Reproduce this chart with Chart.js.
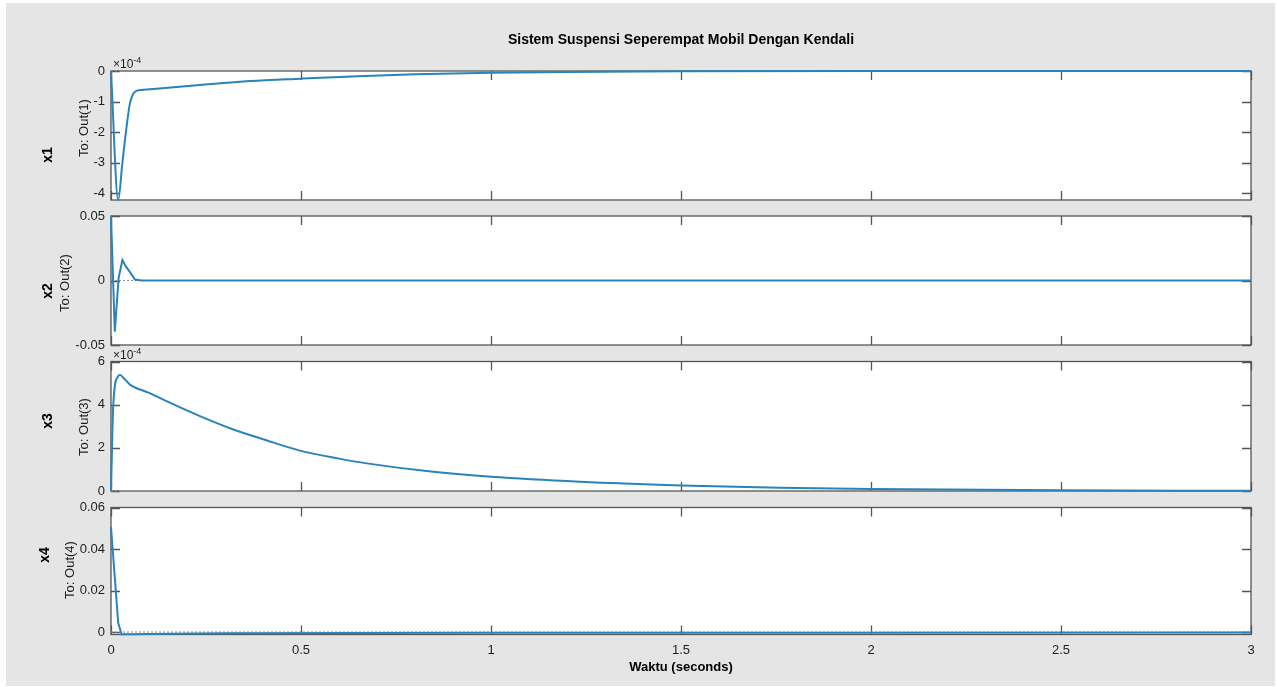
<!DOCTYPE html>
<html><head><meta charset="utf-8">
<script src="https://cdn.jsdelivr.net/npm/chart.js@4.4.1/dist/chart.umd.min.js"></script>
<style>
html,body{margin:0;padding:0;background:#fff;width:1277px;height:687px;overflow:hidden}
#bg{position:absolute;left:6px;top:3px;width:1269px;height:683px;background:#e5e5e5}
canvas{position:absolute;left:0;top:0}
</style></head><body>
<div id="bg"></div>
<canvas id="c1" width="1277" height="687"></canvas>
<canvas id="c2" width="1277" height="687"></canvas>
<canvas id="c3" width="1277" height="687"></canvas>
<canvas id="c4" width="1277" height="687"></canvas>
<script>
// ---------- text ----------
const TITLE = 'Sistem Suspensi Seperempat Mobil Dengan Kendali';
const X_TITLE = 'Waktu (seconds)';
const rowLabels = ['x1', 'x2', 'x3', 'x4'];
const outLabels = ['To: Out(1)', 'To: Out(2)', 'To: Out(3)', 'To: Out(4)'];

// ---------- x axis ----------
const xTicks = [0, 0.5, 1, 1.5, 2, 2.5, 3];
const xTickLabels = ['0', '0.5', '1', '1.5', '2', '2.5', '3'];

// ---------- series (time, value) ----------
const t1 = [0, 0.019, 0.03, 0.041, 0.05, 0.063, 0.08, 0.103, 0.15, 0.234, 0.366, 0.5, 0.65, 0.8, 1.0, 1.2, 1.5, 2.0, 2.5, 3.0];
const x1 = [0, -4.22e-4, -3.0e-4, -1.82e-4, -1.05e-4, -0.68e-4, -0.62e-4, -0.60e-4, -0.55e-4, -0.46e-4, -0.33e-4, -0.25e-4, -0.17e-4, -0.11e-4, -0.06e-4, -0.03e-4, -0.01e-4, 0, 0, 0];

const t2 = [0, 0.01, 0.02, 0.03, 0.04, 0.05, 0.063, 0.08, 3.0];
const x2 = [0.05, -0.0397, 0.002, 0.0159, 0.0105, 0.0065, 0.0008, 0, 0];

const t3 = [0, 0.006, 0.018, 0.024, 0.035, 0.05, 0.1, 0.146, 0.234, 0.322, 0.4, 0.497, 0.6, 0.673, 0.848, 1.0, 1.234, 1.5, 1.76, 2.0, 2.5, 3.0];
const x3 = [0, 4.0e-4, 5.3e-4, 5.37e-4, 5.2e-4, 4.93e-4, 4.55e-4, 4.16e-4, 3.47e-4, 2.85e-4, 2.4e-4, 1.87e-4, 1.5e-4, 1.28e-4, 0.89e-4, 0.66e-4, 0.43e-4, 0.26e-4, 0.15e-4, 0.09e-4, 0.03e-4, 0.01e-4];

const t4 = [0, 0.0105, 0.019, 0.028, 0.05, 0.1, 0.3, 1.0, 2.0, 3.0];
const x4 = [0.0504, 0.025, 0.0043, -0.0011, -0.0011, -0.0009, -0.0006, -0.0004, -0.0003, -0.0002];

// ---------- y axes ----------
const yTicks1 = [-4e-4, -3e-4, -2e-4, -1e-4, 0];
const yTickLabels1 = ['-4', '-3', '-2', '-1', '0'];
const yRange1 = [-4.22e-4, 0];

const yTicks2 = [-0.05, 0, 0.05];
const yTickLabels2 = ['-0.05', '0', '0.05'];
const yRange2 = [-0.05, 0.05];

const yTicks3 = [0, 2e-4, 4e-4, 6e-4];
const yTickLabels3 = ['0', '2', '4', '6'];
const yRange3 = [0, 6e-4];

const yTicks4 = [0, 0.02, 0.04, 0.06];
const yTickLabels4 = ['0', '0.02', '0.04', '0.06'];
const yRange4 = [-0.0012, 0.06];

const exponentLabel = '-4';

// ---------- styling / layout ----------
const FONT = "'Liberation Sans', Arial, Helvetica, sans-serif";
const LINE = '#2a83bb';
const FRAME = '#555555';
const TXT = '#1e1e1e';
const W = 1277, H = 687;

const panelPlugin = {
  id: 'panel',
  beforeDraw(chart, args, o) {
    const {ctx, chartArea: a} = chart;
    ctx.save();
    ctx.fillStyle = '#ffffff';
    ctx.fillRect(a.left, a.top, a.right - a.left, a.bottom - a.top);
    ctx.restore();
  },
  beforeDatasetsDraw(chart, args, o) {
    const {ctx, chartArea: a, scales: {x, y}} = chart;
    ctx.save();
    ctx.strokeStyle = FRAME;
    ctx.lineWidth = 1.3;
    ctx.strokeRect(a.left, a.top, a.right - a.left, a.bottom - a.top);
    const L = 9;
    ctx.beginPath();
    xTicks.forEach(v => {
      const px = Math.round(x.getPixelForValue(v)) + 0.5;
      ctx.moveTo(px, a.top); ctx.lineTo(px, a.top + L);
      ctx.moveTo(px, a.bottom); ctx.lineTo(px, a.bottom - L);
    });
    o.yTicks.forEach(v => {
      const py = Math.round(y.getPixelForValue(v)) + 0.5;
      ctx.moveTo(a.left, py); ctx.lineTo(a.left + L, py);
      ctx.moveTo(a.right, py); ctx.lineTo(a.right - L, py);
    });
    ctx.stroke();
    ctx.restore();
  },
  afterDraw(chart, args, o) {
    const {ctx, chartArea: a} = chart;
    ctx.save();
    ctx.textAlign = 'center';
    ctx.textBaseline = 'middle';
    ctx.fillStyle = '#000';
    ctx.translate(o.rowX, o.rowY);
    ctx.rotate(-Math.PI / 2);
    ctx.font = 'bold 14px ' + FONT;
    ctx.fillText(o.row, 0, 0);
    ctx.restore();

    ctx.save();
    ctx.textAlign = 'center';
    ctx.textBaseline = 'middle';
    ctx.fillStyle = TXT;
    ctx.translate(o.outX, o.outY);
    ctx.rotate(-Math.PI / 2);
    ctx.font = '13px ' + FONT;
    ctx.fillText(o.out, 0, 0);
    ctx.restore();

    if (o.exp) {
      ctx.save();
      ctx.fillStyle = TXT;
      ctx.textAlign = 'left';
      ctx.textBaseline = 'alphabetic';
      ctx.font = '12px ' + FONT;
      const base = '\u00d710';
      ctx.fillText(base, a.left + 2, a.top - 3);
      const w = ctx.measureText(base).width;
      ctx.font = '9px ' + FONT;
      ctx.fillText(o.exp, a.left + 2 + w, a.top - 8);
      ctx.restore();
    }
  }
};

function makeChart(id, p) {
  const showX = !!p.showX;
  return new Chart(document.getElementById(id), {
    type: 'line',
    data: {
      datasets: [
        {
          data: [{x: 0, y: 0}, {x: 3, y: 0}],
          borderColor: '#8f8f8f', borderWidth: 1, borderDash: [2, 2],
          pointRadius: 0, order: 2, clip: 2
        },
        {
          data: p.t.map((t, i) => ({x: t, y: p.v[i]})),
          borderColor: LINE, borderWidth: 2, pointRadius: 0,
          cubicInterpolationMode: p.smooth ? 'monotone' : 'default', tension: 0,
          order: 1, clip: 3
        }
      ]
    },
    options: {
      responsive: false,
      animation: false,
      events: [],
      layout: {padding: {top: p.padTop, bottom: p.padBottom, left: 0, right: 26}},
      plugins: {
        legend: {display: false},
        tooltip: {enabled: false},
        title: p.title ? {
          display: true, text: p.title, fullSize: false, color: '#000',
          font: {family: FONT, size: 14, weight: 'bold'},
          padding: {top: 11.6, bottom: 22.6}
        } : {display: false},
        panel: {
          yTicks: p.yTicks, row: p.row, out: p.out,
          rowX: p.rowX, rowY: p.rowY, outX: p.outX, outY: p.outY, exp: p.exp
        }
      },
      scales: {
        x: {
          type: 'linear', min: 0, max: 3, display: showX,
          grid: {display: false, drawTicks: false}, border: {display: false},
          afterBuildTicks: s => { s.ticks = xTicks.map(v => ({value: v})); },
          afterFit: s => { s.height = showX ? 45 : 0; },
          ticks: {
            padding: 8, color: TXT, autoSkip: false, maxRotation: 0,
            font: {family: FONT, size: 13},
            callback: (v, i) => xTickLabels[i]
          },
          title: {
            display: showX, text: X_TITLE, color: '#000',
            font: {family: FONT, size: 13, weight: 'bold'},
            padding: {top: 0, bottom: 4.7}
          }
        },
        y: {
          type: 'linear', min: p.yRange[0], max: p.yRange[1],
          grid: {display: false, drawTicks: false}, border: {display: false},
          afterBuildTicks: s => { s.ticks = p.yTicks.map(v => ({value: v})); },
          afterFit: s => { s.width = 111; },
          ticks: {
            padding: 6, color: TXT, autoSkip: false,
            font: {family: FONT, size: 13},
            callback: (v, i) => p.yTickLabels[i]
          }
        }
      }
    },
    plugins: [panelPlugin]
  });
}

// plot boxes: top/bottom pixel rows
makeChart('c1', {t: t1, v: x1, yTicks: yTicks1, yTickLabels: yTickLabels1, yRange: yRange1,
  row: rowLabels[0], out: outLabels[0], rowX: 48, rowY: 155, outX: 84, outY: 128,
  exp: exponentLabel, title: TITLE, smooth: true, padTop: 20, padBottom: H - 200});
makeChart('c2', {t: t2, v: x2, yTicks: yTicks2, yTickLabels: yTickLabels2, yRange: yRange2,
  row: rowLabels[1], out: outLabels[1], rowX: 48, rowY: 291, outX: 65, outY: 283,
  padTop: 216, padBottom: H - 345});
makeChart('c3', {t: t3, v: x3, yTicks: yTicks3, yTickLabels: yTickLabels3, yRange: yRange3,
  row: rowLabels[2], out: outLabels[2], rowX: 48, rowY: 421, outX: 84, outY: 427,
  exp: exponentLabel, smooth: true, padTop: 361.5, padBottom: H - 491});
makeChart('c4', {t: t4, v: x4, yTicks: yTicks4, yTickLabels: yTickLabels4, yRange: yRange4,
  row: rowLabels[3], out: outLabels[3], rowX: 45, rowY: 555, outX: 70, outY: 570,
  showX: true, padTop: 507.5, padBottom: H - 634.5 - 45});
</script>
</body></html>
